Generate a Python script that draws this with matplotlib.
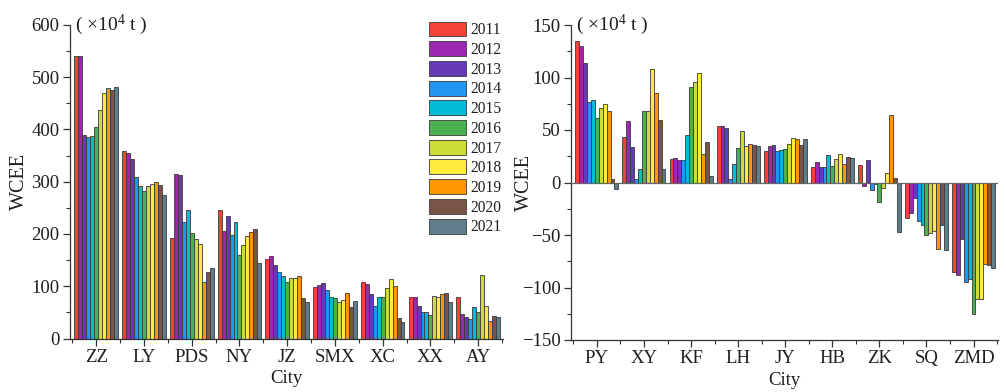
import numpy as np
import matplotlib
matplotlib.use("Agg")
import matplotlib.pyplot as plt
from matplotlib.ticker import MultipleLocator, FixedLocator

plt.rcParams['font.family'] = ['Liberation Serif', 'DejaVu Serif']
plt.rcParams['mathtext.fontset'] = 'custom'
plt.rcParams['mathtext.rm'] = 'Liberation Serif'
plt.rcParams['mathtext.it'] = 'Liberation Serif:italic'

years = ['2011', '2012', '2013', '2014', '2015', '2016',
         '2017', '2018', '2019', '2020', '2021']
colors = ['#F44336', '#9C27B0', '#673AB7', '#2196F3', '#00BCD4', '#4CAF50',
          '#CDDC39', '#FFEB3B', '#FF9800', '#795548', '#607D8B']

# Left panel: cities and yearly WCEE (x10^4 t)
left_cities = ['ZZ', 'LY', 'PDS', 'NY', 'JZ', 'SMX', 'XC', 'XX', 'AY']
zz = [540, 540, 390, 385, 387, 405, 437, 469, 480, 475, 481]
ly = [359, 355, 343, 309, 292, 282, 292, 295, 300, 294, 274]
pds = [193, 314, 313, 223, 245, 202, 191, 181, 109, 128, 134]
ny = [246, 206, 235, 199, 223, 160, 179, 197, 204, 209, 145]
jz = [153, 158, 141, 128, 120, 109, 115, 115, 120, 77, 69]
smx = [98, 102, 106, 92, 80, 78, 69, 74, 88, 60, 71]
xc = [109, 104, 85, 62, 80, 80, 97, 113, 100, 40, 31]
xx = [79, 80, 63, 50, 50, 45, 81, 80, 85, 88, 70]
ay = [80, 47, 41, 37, 61, 50, 121, 63, 34, 43, 41]

# Right panel: cities and yearly WCEE (x10^4 t)
right_cities = ['PY', 'XY', 'KF', 'LH', 'JY', 'HB', 'ZK', 'SQ', 'ZMD']
py = [135, 130, 114, 77, 79, 61, 71, 75, 68, 3, -6]
xy = [43, 59, 34, 3, 13, 68, 68, 108, 85, 60, 13]
kf = [22, 23, 21, 21, 45, 91, 96, 104, 27, 39, 6]
lh = [54, 54, 52, 3, 18, 33, 49, 35, 37, 36, 35]
jy = [30, 35, 36, 30, 31, 32, 37, 42, 41, 36, 41]
hb = [15, 20, 15, 15, 26, 16, 22, 27, 18, 24, 23]
zk = [17, -3, 21, -7, -1, -19, -5, 9, 64, 4, -47]
sq = [-34, -29, -15, -37, -40, -50, -48, -46, -63, -40, -64]
zmd = [-85, -88, -54, -95, -92, -125, -111, -111, -78, -79, -81]

left_vals = np.array([zz, ly, pds, ny, jz, smx, xc, xx, ay])
right_vals = np.array([py, xy, kf, lh, jy, hb, zk, sq, zmd])

W, H = 1006, 392
fig = plt.figure(figsize=(W / 100, H / 100), dpi=100)
ax1 = fig.add_axes([70 / W, 1 - 338.5 / H, (503 - 70) / W, (338.5 - 25) / H])
ax2 = fig.add_axes([571 / W, 1 - 340 / H, (998 - 571) / W, (340 - 25) / H])

bw = 0.083
edge = '#3a3a3a'
txt = '#1e1e1e'


def draw(ax, cities, vals, ylim, major, minor, ylab_x):
    x = np.arange(len(cities))
    for i, (yr, c) in enumerate(zip(years, colors)):
        ax.bar(x + (i - 5) * bw, vals[:, i], width=bw, color=c,
               edgecolor=edge, linewidth=0.6, label=yr, zorder=2)
    ax.set_xlim(-0.55, len(cities) - 0.5 + 0.02)
    ax.set_ylim(*ylim)
    ax.set_xticks(x)
    ax.set_xticklabels(cities)
    ax.xaxis.set_minor_locator(FixedLocator(np.arange(-0.5, len(cities), 1.0)))
    ax.yaxis.set_major_locator(MultipleLocator(major))
    ax.yaxis.set_minor_locator(MultipleLocator(minor))
    for s in ('top', 'right'):
        ax.spines[s].set_visible(False)
    for s in ('left', 'bottom'):
        ax.spines[s].set_color('#333333')
        ax.spines[s].set_linewidth(0.9)
    ax.tick_params(which='major', direction='out', length=5, width=0.9,
                   labelsize=13.5, colors='#333333', labelcolor=txt, pad=2.5)
    ax.tick_params(which='minor', direction='out', length=3, width=0.8,
                   colors='#333333')
    ax.set_xlabel('City', fontsize=13.5, labelpad=3, color=txt)
    ax.set_ylabel('WCEE', fontsize=14.5, color=txt)
    ax.yaxis.set_label_coords(ylab_x, 0.5)
    ax.text(0.012, 1.0, r'( $\mathregular{\times10^{4}}$ t )',
            transform=ax.transAxes, fontsize=14, va='center', ha='left',
            color=txt)


draw(ax1, left_cities, left_vals, (0, 600), 100, 50, (29 - 70) / 433)
draw(ax2, right_cities, right_vals, (-150, 150), 50, 25, (534 - 571) / 427)
ax2.axhline(0, color='#666666', linewidth=0.9, zorder=3)

leg = ax1.legend(loc='upper left', bbox_to_anchor=(429 / W, 1 - 21.5 / H),
                 bbox_transform=fig.transFigure, frameon=False, fontsize=11.2,
                 handlelength=2.35, handleheight=1.1, labelspacing=0.19,
                 handletextpad=0.3, borderpad=0, borderaxespad=0)
for t in leg.get_texts():
    t.set_color(txt)

fig.savefig('out.png', dpi=100)
